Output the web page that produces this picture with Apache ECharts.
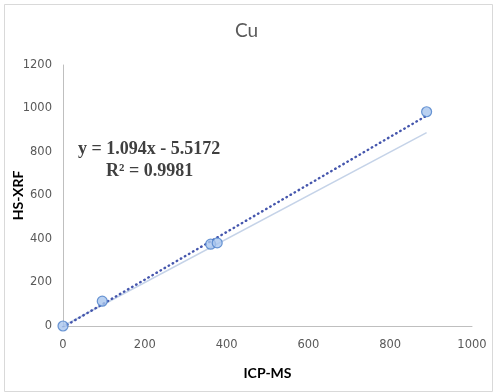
<!DOCTYPE html>
<html>
<head>
<meta charset="utf-8">
<script src="https://cdn.jsdelivr.net/npm/echarts@6/dist/echarts.min.js"></script>
<style>html,body{margin:0;padding:0;background:#fff;}#c{width:493px;height:392px;}</style>
</head>
<body>
<div id="c"></div>
<script>
// Data
var icpMs = [0, 96, 361, 377, 889];
var hsXrf = [0, 114, 376, 382, 985];
var trendSlope = 1.094;
var trendIntercept = -5.5172;
var trendLabel = "y = 1.094x - 5.5172";
var r2Label = "R\u00b2 = 0.9981";
var xTicks = [0, 200, 400, 600, 800, 1000];
var yTicks = [0, 200, 400, 600, 800, 1000, 1200];

var points = icpMs.map(function (x, i) { return [x, hsXrf[i]]; });
var xMax = Math.max.apply(null, icpMs);
var trendLine = [[0, trendIntercept], [xMax, trendSlope * xMax + trendIntercept]];
var oneToOne = [[0, 0], [xMax, xMax]];
var plain = function (v) { return String(v); };

var chart = echarts.init(document.getElementById('c'), null, {renderer: 'canvas'});
chart.setOption({
  animation: false,
  backgroundColor: '#ffffff',
  title: {
    text: 'Cu', left: 'center', top: 16,
    textStyle: {fontFamily: 'Lato', fontSize: 19, fontWeight: 'normal', color: '#595959'}
  },
  grid: {left: 63, right: 21, top: 65, bottom: 66, containLabel: false, outerBoundsMode: 'none'},
  xAxis: {
    type: 'value', min: xTicks[0], max: xTicks[xTicks.length - 1], interval: 200,
    name: 'ICP-MS', nameLocation: 'middle', nameGap: 40, nameMoveOverlap: false,
    nameTextStyle: {fontFamily: 'Lato', fontSize: 14, fontWeight: 'bold', color: '#000'},
    axisLine: {show: true, lineStyle: {color: '#bfbfbf', width: 1}},
    axisTick: {show: false},
    splitLine: {show: false},
    axisLabel: {margin: 13, formatter: plain, fontFamily: 'DejaVu Sans', fontSize: 11.5, color: '#595959'}
  },
  yAxis: {
    type: 'value', min: yTicks[0], max: yTicks[yTicks.length - 1], interval: 200,
    name: 'HS-XRF', nameLocation: 'middle', nameGap: 38, nameRotate: 90, nameMoveOverlap: false,
    nameTextStyle: {fontFamily: 'Lato', fontSize: 14, fontWeight: 'bold', color: '#000'},
    axisLine: {show: true, lineStyle: {color: '#bfbfbf', width: 1}},
    axisTick: {show: false},
    splitLine: {show: false},
    axisLabel: {margin: 11, formatter: plain, fontFamily: 'DejaVu Sans', fontSize: 11.5, color: '#595959'}
  },
  series: [
    {
      type: 'line', data: oneToOne, symbol: 'none', silent: true,
      lineStyle: {color: '#c5d3e8', width: 1.5}, z: 1
    },
    {
      type: 'line', data: trendLine, symbol: 'none', silent: true,
      lineStyle: {color: '#4556ad', width: 2.4, type: [0.5, 4.2], cap: 'round'}, z: 2
    },
    {
      type: 'scatter', data: points, symbol: 'circle', symbolSize: 10,
      itemStyle: {color: '#a9c6ee', borderColor: '#4a7ec9', borderWidth: 1.2}, z: 3
    }
  ],
  graphic: [
    {
      type: 'rect', left: 2, top: 2, silent: true,
      shape: {width: 488, height: 387},
      style: {fill: 'none', stroke: '#d9d9d9', lineWidth: 1}
    },
    {
      type: 'text', left: 78, top: 140, silent: true,
      style: {text: trendLabel, font: 'bold 18px "Liberation Serif"', fill: '#404040'}
    },
    {
      type: 'text', left: 106, top: 162, silent: true,
      style: {text: r2Label, font: 'bold 18px "Liberation Serif"', fill: '#404040'}
    }
  ]
});
</script>
</body>
</html>
